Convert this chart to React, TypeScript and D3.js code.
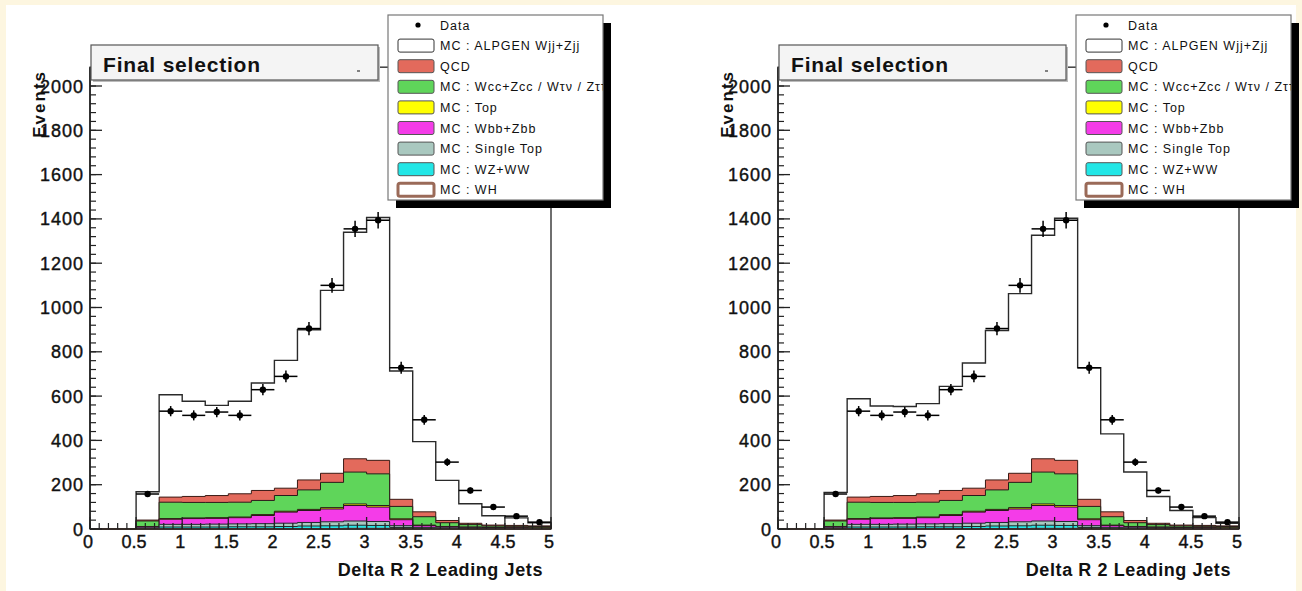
import React from 'react';
import * as d3 from 'd3';

// ---- Data (Delta R between 2 leading jets, 0.25-wide bins) ----
const BIN_EDGES = [0, 0.25, 0.5, 0.75, 1, 1.25, 1.5, 1.75, 2, 2.25, 2.5, 2.75, 3, 3.25, 3.5, 3.75, 4, 4.25, 4.5, 4.75, 5];
const X_TICKS = [0, 0.5, 1, 1.5, 2, 2.5, 3, 3.5, 4, 4.5, 5];
const X_TICK_LABELS = ['0', '0.5', '1', '1.5', '2', '2.5', '3', '3.5', '4', '4.5', '5'];
const Y_TICKS = [0, 200, 400, 600, 800, 1000, 1200, 1400, 1600, 1800, 2000];

const DATA = [0, 0, 158, 532, 513, 528, 513, 629, 689, 905, 1100, 1355, 1394, 728, 493, 302, 174, 99, 58, 31];

// stacked MC components, bottom to top
const WH = [0, 0, 0.3, 1, 1, 1, 1, 1, 1.2, 1.5, 1.5, 2, 2, 1, 0.5, 0.4, 0.3, 0.2, 0.2, 0.1];
const WZ_WW = [0, 0, 2, 8, 8, 8, 9, 9, 10, 12, 13, 15, 14, 6, 3, 2, 2, 1.5, 1, 1];
const SINGLE_TOP = [0, 0, 3, 12, 12, 13, 13, 14, 15, 16, 18, 19, 18, 8, 4, 3, 2.5, 2, 1.5, 1.5];
const WBB_ZBB = [0, 0, 5, 23, 26, 26, 28, 37, 50, 54, 58, 70, 65, 27, 8, 5, 3, 3, 3, 2];
const TOP = [0, 0, 1, 3, 3, 3, 3, 4, 4, 5, 6, 7, 7, 4, 2, 1, 1, 1, 0.5, 0.5];
const WCC_ZCC = [0, 0, 25, 74, 70, 69, 67, 64, 71, 88, 114, 144, 143, 56, 38, 17, 11, 6, 6, 6];
const QCD = [0, 0, 4, 23, 27, 31, 38, 45, 33, 45, 41, 60, 61, 32, 22, 10, 6, 4, 4, 3];
const ALPGEN_LEFT = [0, 0, 128, 462, 430, 407, 418, 485, 577, 678, 826, 1023, 1096, 579, 317, 181, 88, 42, 34, 14];
const ALPGEN_RIGHT = [0, 0, 125, 444, 408, 402, 407, 470, 565, 675, 811, 1009, 1093, 594, 352, 219, 121, 66, 35, 12];

const LEGEND_LABELS = [
  'Data',
  'MC : ALPGEN Wjj+Zjj',
  'QCD',
  'MC : Wcc+Zcc / W\u03c4\u03bd / Z\u03c4\u03c4',
  'MC : Top',
  'MC : Wbb+Zbb',
  'MC : Single Top',
  'MC : WZ+WW',
  'MC : WH',
];

const FONT = "'Liberation Sans', Arial, Helvetica, sans-serif";

type Layer = { values: number[]; fill: string; stroke: string; sw: number };

function Panel({ dx, alpgen, id }: { dx: number; alpgen: number[]; id: string }) {
  const x = d3.scaleLinear().domain([0, 5]).range([90, 551]);
  const y = d3.scaleLinear().domain([0, 2000]).range([529, 86]);
  const frameTop = y(2085);
  const frameBottom = y(0);

  const layers: Layer[] = [
    { values: WH, fill: '#ffffff', stroke: '#8a5a48', sw: 1.5 },
    { values: WZ_WW, fill: '#22e6e6', stroke: '#1e2a2a', sw: 1 },
    { values: SINGLE_TOP, fill: '#a9c8bf', stroke: '#1e2a2a', sw: 1 },
    { values: WBB_ZBB, fill: '#f43ce8', stroke: '#2a1a1a', sw: 1 },
    { values: TOP, fill: '#ffff00', stroke: '#2a1a1a', sw: 1 },
    { values: WCC_ZCC, fill: '#5fd55a', stroke: '#2a1a1a', sw: 1 },
    { values: QCD, fill: '#e36a5c', stroke: '#3a1a14', sw: 1 },
    { values: alpgen, fill: '#ffffff', stroke: '#2a2a2a', sw: 1.4 },
  ];

  const keys = layers.map((_, k) => 'k' + k);
  const rows = DATA.map((_, i) => {
    const o: Record<string, number> = {};
    layers.forEach((l, k) => (o['k' + k] = l.values[i]));
    return o;
  });
  const stacked = d3.stack<Record<string, number>>().keys(keys)(rows);

  const line = d3
    .line<[number, number]>()
    .x((d) => x(d[0]))
    .y((d) => y(d[1]));

  const stepPath = (tops: number[]) => {
    const pts: [number, number][] = [[BIN_EDGES[0], 0]];
    tops.forEach((t, i) => {
      pts.push([BIN_EDGES[i], t]);
      pts.push([BIN_EDGES[i + 1], t]);
    });
    pts.push([BIN_EDGES[BIN_EDGES.length - 1], 0]);
    return line(pts) as string;
  };

  const xMinor: number[] = d3.range(0, 5.0001, 0.1);
  const yMinor: number[] = d3.range(0, 2080, 40);

  const legX = 388;
  const legY = 15;
  const legW = 215;
  const legH = 185;
  const rowY = (i: number) => 25 + i * 20.6;
  const legendSwatches: { fill: string; stroke: string; sw: number }[] = [
    { fill: '#ffffff', stroke: '#333', sw: 1 },
    { fill: '#e36a5c', stroke: '#555', sw: 1 },
    { fill: '#5fd55a', stroke: '#555', sw: 1 },
    { fill: '#ffff00', stroke: '#555', sw: 1 },
    { fill: '#f43ce8', stroke: '#555', sw: 1 },
    { fill: '#a9c8bf', stroke: '#555', sw: 1 },
    { fill: '#22e6e6', stroke: '#555', sw: 1 },
    { fill: '#ffffff', stroke: '#9a6a58', sw: 3 },
  ];

  return (
    <g transform={`translate(${dx},0)`}>
      <defs>
        <clipPath id={'legclip' + id}>
          <rect x={legX} y={legY} width={legW} height={legH} />
        </clipPath>
      </defs>
      {/* frame */}
      <rect x={x(0)} y={frameTop} width={x(5) - x(0)} height={frameBottom - frameTop} fill="#fff" stroke="#222" strokeWidth={1.3} />

      {/* stacked histograms, drawn top-first so lower layers cover */}
      {stacked
        .map((s, k) => ({ s, k }))
        .reverse()
        .map(({ s, k }) => (
          <path
            key={'l' + k}
            d={stepPath(s.map((d) => d[1]))}
            fill={layers[k].fill}
            stroke={layers[k].stroke}
            strokeWidth={layers[k].sw}
            strokeLinejoin="miter"
          />
        ))}

      {/* data with error bars */}
      {DATA.map((v, i) => {
        if (v <= 0) return null;
        const cx = x((BIN_EDGES[i] + BIN_EDGES[i + 1]) / 2);
        const e = Math.sqrt(v);
        return (
          <g key={'d' + i}>
            <line x1={x(BIN_EDGES[i])} x2={x(BIN_EDGES[i + 1])} y1={y(v)} y2={y(v)} stroke="#000" strokeWidth={1.5} />
            <line x1={cx} x2={cx} y1={y(v - e)} y2={y(v + e)} stroke="#000" strokeWidth={1.5} />
            <circle cx={cx} cy={y(v)} r={3.2} fill="#000" />
          </g>
        );
      })}

      {/* axes lines */}
      <line x1={x(0)} x2={x(0)} y1={frameTop} y2={frameBottom} stroke="#222" strokeWidth={1.6} />
      <line x1={x(0)} x2={x(5)} y1={frameBottom} y2={frameBottom} stroke="#222" strokeWidth={1.6} />

      {/* x ticks */}
      {xMinor.map((t, i) => (
        <line key={'xm' + i} x1={x(t)} x2={x(t)} y1={frameBottom} y2={frameBottom - 6} stroke="#222" strokeWidth={1.2} />
      ))}
      {X_TICKS.map((t, i) => (
        <line key={'xM' + i} x1={x(t)} x2={x(t)} y1={frameBottom} y2={frameBottom - 12} stroke="#222" strokeWidth={1.3} />
      ))}
      {X_TICKS.map((t, i) => (
        <text key={'xl' + i} x={x(t) - 2} y={548} textAnchor="middle" fontFamily={FONT} fontSize={18} stroke="#111" strokeWidth={0.4} fill="#111">
          {X_TICK_LABELS[i]}
        </text>
      ))}

      {/* y ticks */}
      {yMinor.map((t, i) => (
        <line key={'ym' + i} x1={x(0)} x2={x(0) + 6} y1={y(t)} y2={y(t)} stroke="#222" strokeWidth={1.2} />
      ))}
      {Y_TICKS.map((t, i) => (
        <line key={'yM' + i} x1={x(0)} x2={x(0) + 12} y1={y(t)} y2={y(t)} stroke="#222" strokeWidth={1.3} />
      ))}
      {Y_TICKS.map((t, i) => (
        <text key={'yl' + i} x={84} y={y(t) + 6.5} textAnchor="end" fontFamily={FONT} fontSize={18} letterSpacing={1} stroke="#111" strokeWidth={0.4} fill="#111">
          {String(t)}
        </text>
      ))}

      {/* axis titles */}
      <text x={543} y={576} textAnchor="end" fontFamily={FONT} fontSize={18} fontWeight="bold" letterSpacing={0.6} fill="#111">
        Delta R 2 Leading Jets
      </text>
      <text transform="translate(45,70) rotate(-90)" textAnchor="end" fontFamily={FONT} fontSize={17} fontWeight="bold" letterSpacing={2} fill="#111">
        Events
      </text>

      {/* title box */}
      <rect x={93} y={47} width={287} height={35} fill="#bbb" />
      <rect x={91} y={45} width={287} height={35} fill="#f4f4f4" stroke="#555" strokeWidth={1.2} />
      <text x={103} y={72} fontFamily={FONT} fontSize={21} fontWeight="bold" letterSpacing={0.8} fill="#111">
        Final selection
      </text>
      <line x1={357} x2={360} y1={71} y2={71} stroke="#333" strokeWidth={1.2} />

      {/* legend */}
      <rect x={legX + 8} y={legY + 8} width={legW} height={legH} fill="#000" />
      <rect x={legX} y={legY} width={legW} height={legH} fill="#fff" stroke="#777" strokeWidth={1.2} />
      <circle cx={418} cy={rowY(0)} r={2.6} fill="#000" />
      {legendSwatches.map((s, i) => (
        <rect
          key={'sw' + i}
          x={398}
          y={rowY(i + 1) - 6.5}
          width={36}
          height={13}
          rx={2}
          fill={s.fill}
          stroke={s.stroke}
          strokeWidth={s.sw}
        />
      ))}
      <g clipPath={`url(#legclip${id})`}>
        {LEGEND_LABELS.map((t, i) => (
          <text key={'lt' + i} x={440} y={rowY(i) + 4.5} fontFamily={FONT} fontSize={12.5} letterSpacing={1} fill="#111">
            {t}
          </text>
        ))}
      </g>
    </g>
  );
}

export default function App() {
  return (
    <svg
      width={1302}
      height={591}
      style={{ position: 'absolute', left: 0, top: 0, display: 'block' }}
      xmlns="http://www.w3.org/2000/svg"
    >
      <rect x={0} y={0} width={1302} height={591} fill="#fdf6e0" />
      <rect x={6} y={5} width={1290} height={586} fill="#ffffff" />
      <Panel dx={0} alpgen={ALPGEN_LEFT} id="a" />
      <Panel dx={688} alpgen={ALPGEN_RIGHT} id="b" />
    </svg>
  );
}
